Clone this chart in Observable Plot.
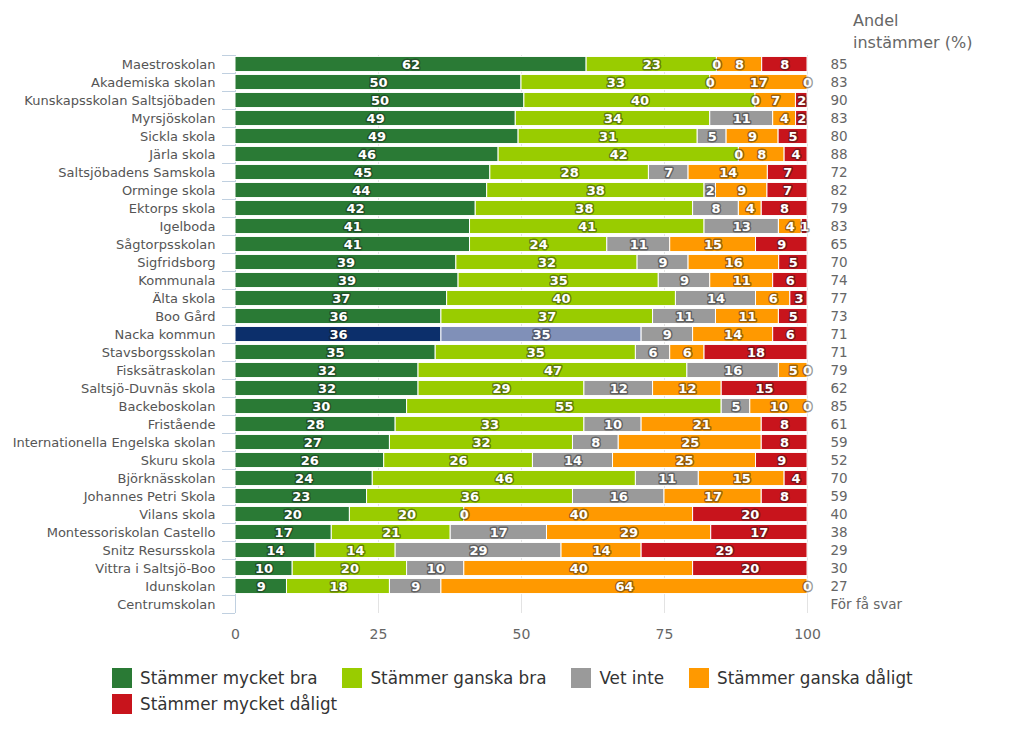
<!DOCTYPE html>
<html>
<head>
<meta charset="utf-8">
<script src="https://cdn.jsdelivr.net/npm/d3@7"></script>
<script src="https://cdn.jsdelivr.net/npm/@observablehq/plot@0.6"></script>
<style>
  html, body { margin: 0; padding: 0; background: #fff; }
  #wrap { position: relative; width: 1023px; height: 746px; font-family: "DejaVu Sans", sans-serif; }
  #header { position: absolute; left: 853px; top: 10px; font-size: 16px; line-height: 22px; color: #666; }
  #legend { position: absolute; left: 112px; top: 668px; width: 850px; display: flex; flex-wrap: wrap; row-gap: 6px; font-size: 16.8px; color: #333; }
  .item { display: flex; align-items: center; margin-right: 25px; height: 20px; }
  .sw { width: 20px; height: 20px; margin-right: 8px; }
</style>
</head>
<body>
<div id="wrap">
  <div id="chart"></div>
  <div id="header">Andel<br>instämmer (%)</div>
  <div id="legend"></div>
</div>
<script>
const schools = ["Maestroskolan","Akademiska skolan","Kunskapsskolan Saltsjöbaden","Myrsjöskolan","Sickla skola","Järla skola","Saltsjöbadens Samskola","Orminge skola","Ektorps skola","Igelboda","Sågtorpsskolan","Sigfridsborg","Kommunala","Älta skola","Boo Gård","Nacka kommun","Stavsborgsskolan","Fisksätraskolan","Saltsjö-Duvnäs skola","Backeboskolan","Fristående","Internationella Engelska skolan","Skuru skola","Björknässkolan","Johannes Petri Skola","Vilans skola","Montessoriskolan Castello","Snitz Resursskola","Vittra i Saltsjö-Boo","Idunskolan","Centrumskolan"];
const mycketBra    = [62,50,50,49,49,46,45,44,42,41,41,39,39,37,36,36,35,32,32,30,28,27,26,24,23,20,17,14,10,9,null];
const ganskaBra    = [23,33,40,34,31,42,28,38,38,41,24,32,35,40,37,35,35,47,29,55,33,32,26,46,36,20,21,14,20,18,null];
const vetInte      = [0,0,0,11,5,0,7,2,8,13,11,9,9,14,11,9,6,16,12,5,10,8,14,11,16,0,17,29,10,9,null];
const ganskaDaligt = [8,17,7,4,9,8,14,9,4,4,15,16,11,6,11,14,6,5,12,10,21,25,25,15,17,40,29,14,40,64,null];
const mycketDaligt = [8,0,2,2,5,4,7,7,8,1,9,5,6,3,5,6,18,0,15,0,8,8,9,4,8,20,17,29,20,0,null];
const andel = ["85","83","90","83","80","88","72","82","79","83","65","70","74","77","73","71","71","79","62","85","61","59","52","70","59","40","38","29","30","27","För få svar"];
const categories = ["Stämmer mycket bra","Stämmer ganska bra","Vet inte","Stämmer ganska dåligt","Stämmer mycket dåligt"];
const colors = ["#2a7a35","#99cc00","#9a9a9a","#ff9900","#c8141c"];
const highlight = "Nacka kommun";
const highlightColors = ["#0c2f6b","#8090b8"];
const xTicks = [0, 25, 50, 75, 100];

const series = [mycketBra, ganskaBra, vetInte, ganskaDaligt, mycketDaligt];
const data = [];
schools.forEach((s, i) => {
  series.forEach((arr, k) => {
    if (arr[i] == null) return;
    const key = (s === highlight && k < 2) ? "H" + k : categories[k];
    data.push({school: s, cat: k, value: arr[i], key});
  });
});
const rows = schools.map((s, i) => ({school: s, andel: andel[i]}));

const plot = Plot.plot({
  width: 1023,
  height: 660,
  marginLeft: 235,
  marginRight: 216,
  marginTop: 55,
  marginBottom: 47,
  style: {fontFamily: "DejaVu Sans, sans-serif", background: "white", overflow: "visible"},
  x: {domain: [0, 1], axis: null, label: null},
  y: {domain: schools, paddingInner: 0.16, paddingOuter: 0.08, round: false, axis: null, label: null},
  color: {domain: [...categories, "H0", "H1"], range: [...colors, ...highlightColors]},
  marks: [
    Plot.ruleX(xTicks.slice(1).map(d => d / 100), {stroke: "#e3e3e3"}),
    Plot.ruleX([0], {stroke: "#c0d0e0"}),
    Plot.axisY({tickSize: 13, tickFormat: () => "", dy: -9, stroke: "#c0d0e0", strokeOpacity: 1, label: null}),
    Plot.axisY({ticks: [schools[schools.length - 1]], tickSize: 13, tickFormat: () => "", dy: 9, stroke: "#c0d0e0", strokeOpacity: 1, label: null}),
    Plot.axisY({tickSize: 0, tickPadding: 20, fontSize: 13, fill: "#555", label: null}),
    Plot.axisX({ticks: xTicks.map(d => d / 100), tickFormat: d => Math.round(d * 100), tickSize: 0, tickPadding: 16, fontSize: 14, fill: "#666", label: null}),
    Plot.barX(data, Plot.stackX({x: "value", y: "school", z: "cat", fill: "key", order: null, offset: "normalize", stroke: "white", strokeWidth: 1})),
    Plot.text(data, Plot.stackX({x: "value", y: "school", z: "cat", text: d => String(d.value), order: null, offset: "normalize",
      fill: "white", stroke: "#1a1a1a", strokeOpacity: 0.45, strokeWidth: 3, strokeLinejoin: "round", paintOrder: "stroke",
      fontWeight: "bold", fontSize: 13})),
    Plot.text(rows, {y: "school", text: "andel", frameAnchor: "right", dx: 23, textAnchor: "start", fontSize: 13.5, fill: "#666"})
  ]
});
document.getElementById("chart").appendChild(plot);

const legend = document.getElementById("legend");
categories.forEach((c, k) => {
  const it = document.createElement("div");
  it.className = "item";
  it.innerHTML = `<div class="sw" style="background:${colors[k]}"></div><span>${c}</span>`;
  legend.appendChild(it);
});
</script>
</body>
</html>
